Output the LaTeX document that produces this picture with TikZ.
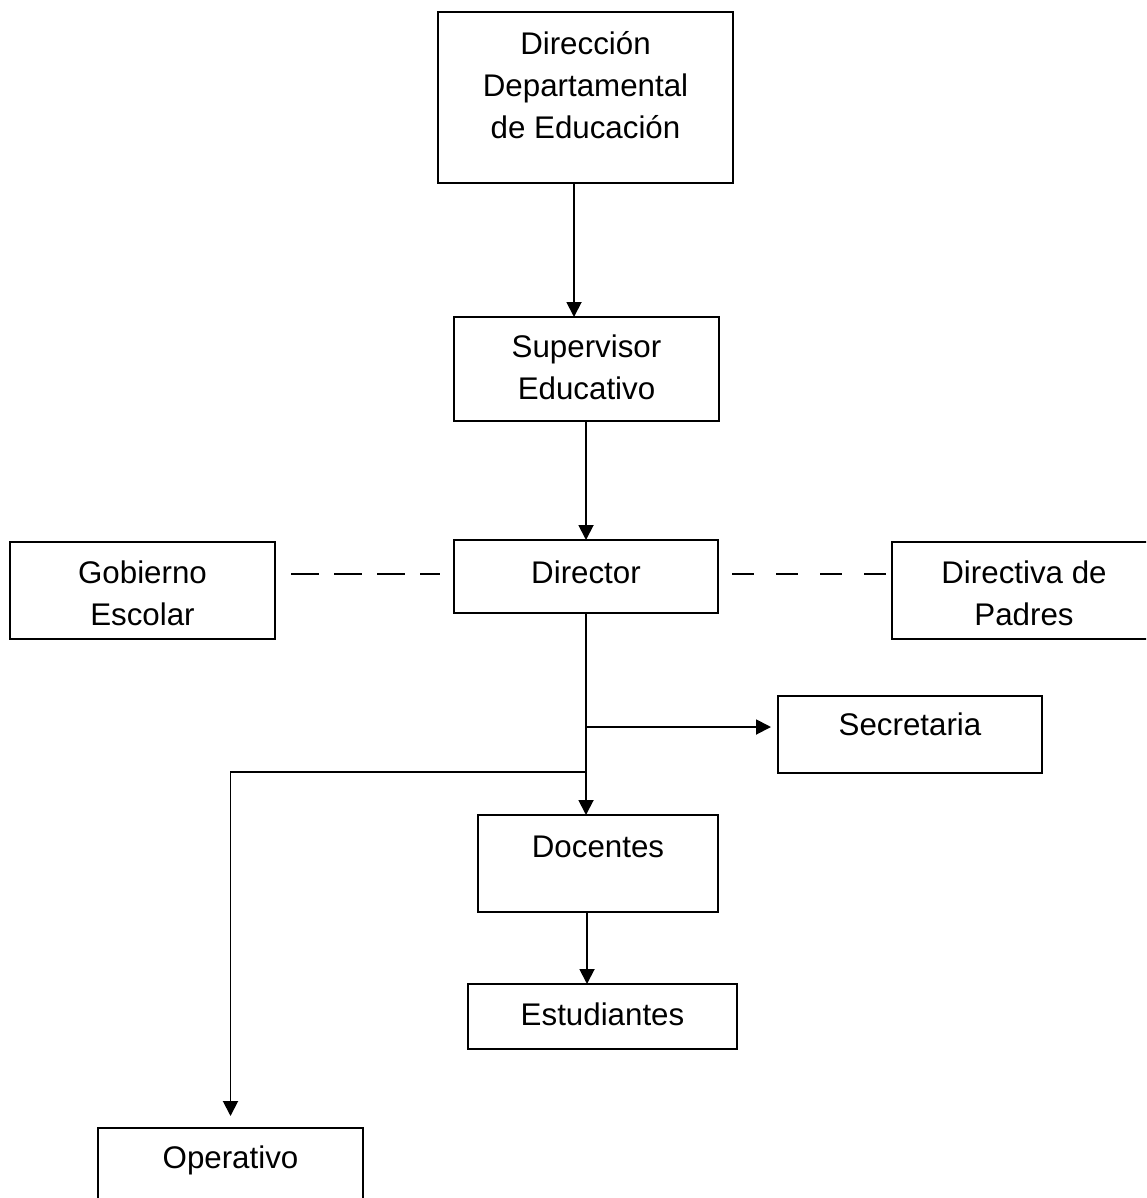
\documentclass[tikz,border=0pt]{standalone}
\usepackage{fontspec}
\setmainfont{Liberation Sans}
\usetikzlibrary{arrows.meta,calc}
\tikzset{
  orgbox/.style={draw, line width=1.9pt, inner sep=0pt, outer sep=0pt},
  txt/.style={font=\fontsize{31.3}{42}\selectfont, align=center, inner sep=0pt, outer sep=0pt},
  conn/.style={line width=1.9pt},
  arr/.style={conn, -{Triangle[length=15pt,width=15pt]}},
  dashl/.style={conn, dash pattern=on 28pt off 15pt},
  dashr/.style={conn, dash pattern=on 22pt off 22pt}
}
\begin{document}
\begin{tikzpicture}[x=1pt, y=-1pt]
\clip (0,0) rectangle (1146,1198);
\fill[white] (0,0) rectangle (1146,1198);
% boxes
\node[orgbox, minimum width=295, minimum height=171] (dde) at (585.5,97.5) {};
\node[orgbox, minimum width=265, minimum height=104] (sup) at (586.5,369) {};
\node[orgbox, minimum width=264, minimum height=73] (dir) at (586,576.5) {};
\node[orgbox, minimum width=265, minimum height=97] (gob) at (142.5,590.5) {};
\node[orgbox, minimum width=264, minimum height=97] (dpa) at (1024,590.5) {};
\node[orgbox, minimum width=264, minimum height=77] (sec) at (910,734.5) {};
\node[orgbox, minimum width=240, minimum height=97] (doc) at (598,863.5) {};
\node[orgbox, minimum width=269, minimum height=65] (est) at (602.5,1016.5) {};
\node[orgbox, minimum width=265, minimum height=97] (ope) at (230.5,1176.5) {};
% texts
\node[txt] (ddeT) at (585.5,88) {\strut Dirección\\\strut Departamental\\\strut de Educación};
\node[txt] (supT) at (586.5,370) {\strut Supervisor\\\strut Educativo};
\node[txt] (dirT) at (586,575) {\strut Director};
\node[txt] (gobT) at (142.5,596) {\strut Gobierno\\\strut Escolar};
\node[txt] (dpaT) at (1024,596) {\strut Directiva de\\\strut Padres};
\node[txt] (secT) at (910,727) {\strut Secretaria};
\node[txt] (docT) at (598,849) {\strut Docentes};
\node[txt] (estT) at (602.5,1017) {\strut Estudiantes};
\node[txt] (opeT) at (230.5,1160) {\strut Operativo};
% connectors
\draw[arr] ([xshift=-11.5pt]dde.south) -- ([xshift=-12.5pt]sup.north);
\draw[arr] (sup.south -| dir.north) -- (dir.north);
\draw[dashl] ($(gob.east |- 0,574)+(16,0)$) -- ($(dir.west |- 0,574)+(-14,0)$);
\draw[dashr] ($(dir.east |- 0,574)+(14,0)$) -- (dpa.west |- 0,574);
\draw[arr] (dir.south) -- ([xshift=-12pt]doc.north);
\coordinate (b1) at (586,727);
\coordinate (b2) at (585,772);
\draw[arr] (b1) -- ([xshift=-7pt]sec.west |- b1);
\draw[arr] (b2) -- (ope.north |- b2) -- ([yshift=12pt]ope.north);
\draw[arr] ([xshift=-11pt]doc.south) -- ([xshift=-15.5pt]est.north);
\end{tikzpicture}
\end{document}
